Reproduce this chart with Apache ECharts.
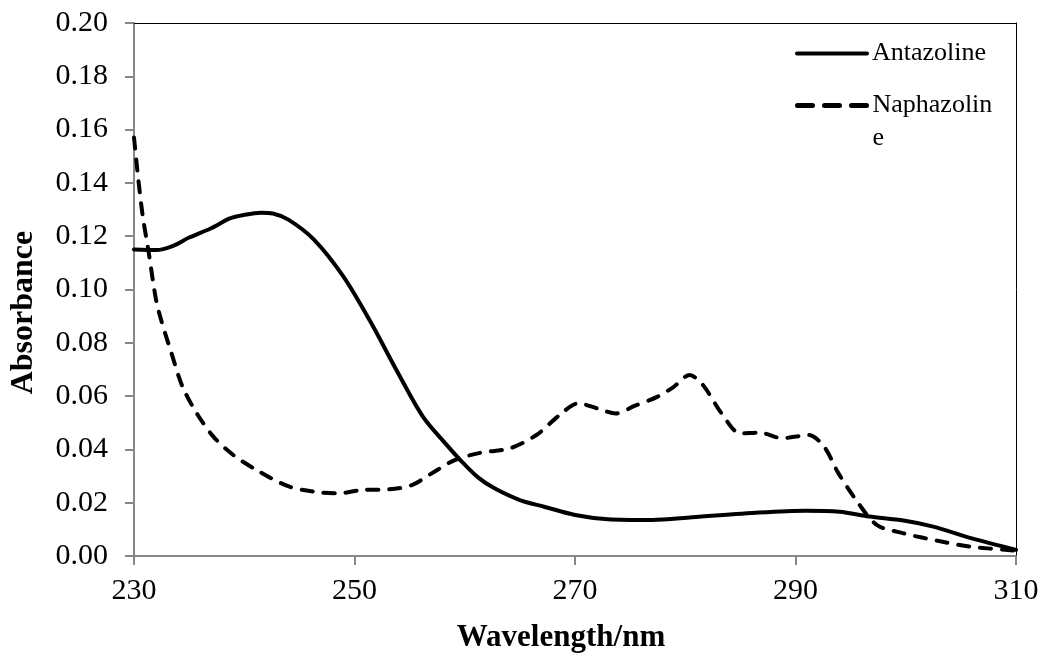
<!DOCTYPE html>
<html>
<head>
<meta charset="utf-8">
<script src="https://cdn.jsdelivr.net/npm/echarts@6/dist/echarts.min.js"></script>
<style>html,body{margin:0;padding:0;background:#fff}#c{width:1043px;height:659px}</style>
</head>
<body>
<div id="c"></div>
<script>
const antWl  = [230, 232, 233.5, 235, 237, 238.7, 240, 241.5, 242.6, 244, 246.3, 249, 251.5, 253.8, 256.2, 258.4, 259.6, 261.2, 262.7, 265, 267.2, 270, 273, 277, 280.6, 286.7, 290.9, 294, 296.7, 299.8, 302.5, 306, 310];
const antAbs = [0.115, 0.1148, 0.1163, 0.1195, 0.1230, 0.1267, 0.1280, 0.1288, 0.1285, 0.1262, 0.1188, 0.1048, 0.0875, 0.0698, 0.0523, 0.0415, 0.0360, 0.0295, 0.0254, 0.0210, 0.0185, 0.0154, 0.0138, 0.0135, 0.0145, 0.0163, 0.0170, 0.0166, 0.0148, 0.0133, 0.0110, 0.0066, 0.0023];
const naphWl  = [230, 230.4, 230.8, 231.3, 232, 232.5, 233.4, 234.4, 235.7, 237.2, 239, 241.4, 244.1, 246.8, 248.6, 250.7, 253.1, 255.2, 257, 259.1, 261.4, 264.1, 266.5, 268.6, 270.3, 272, 273.7, 275.4, 277.5, 278.9, 280.4, 281.6, 283.3, 285, 286.7, 288.8, 291.2, 292.6, 293.9, 295.7, 297.4, 299.8, 302.9, 305.9, 310];
const naphAbs = [0.157, 0.141, 0.1273, 0.1148, 0.0961, 0.0880, 0.0761, 0.0635, 0.0535, 0.0448, 0.0379, 0.0316, 0.0260, 0.0239, 0.0235, 0.0248, 0.0250, 0.0266, 0.0310, 0.0360, 0.0387, 0.0404, 0.0454, 0.0529, 0.0573, 0.0554, 0.0535, 0.0563, 0.0598, 0.0633, 0.0679, 0.0642, 0.0535, 0.0460, 0.0463, 0.0442, 0.0454, 0.0410, 0.0310, 0.0198, 0.0116, 0.0085, 0.0057, 0.0035, 0.0020];
const xTicks = [230, 250, 270, 290, 310];
const seriesNames = ['Antazoline', 'Naphazoline'];
const xTitle = 'Wavelength/nm';
const yTitle = 'Absorbance';

const FONT = "'Liberation Serif', 'Times New Roman', serif";
const pairs = (xs, ys) => xs.map((x, i) => [x, ys[i]]);
const DASH = [11, 11];

const legendBase = {
  left: 795, padding: 0, itemWidth: 70, itemHeight: 4, itemGap: 8,
  itemStyle: {opacity: 0},
  textStyle: {fontFamily: FONT, fontSize: 26, color: '#000', lineHeight: 33}
};

const chart = echarts.init(document.getElementById('c'), null, {renderer: 'canvas'});
chart.setOption({
  animation: false,
  backgroundColor: '#fff',
  grid: {left: 134, right: 27, top: 23, bottom: 103},
  legend: [
    Object.assign({}, legendBase, {
      data: [seriesNames[0]], top: 37,
      lineStyle: {width: 4, type: 'solid', cap: 'round', color: '#000'}
    }),
    Object.assign({}, legendBase, {
      data: [seriesNames[1]], top: 56,
      formatter: () => '\nNaphazolin\ne',
      lineStyle: {width: 5, type: [15, 12], cap: 'round', color: '#000'}
    })
  ],
  xAxis: [
    {
      type: 'value', min: 230, max: 310, interval: 20,
      name: xTitle, nameLocation: 'middle', nameGap: 66,
      nameTextStyle: {fontFamily: FONT, fontSize: 31, fontWeight: 'bold', color: '#000', padding: [0, 28, 0, 0]},
      axisLine: {show: true, lineStyle: {color: '#868686', width: 2}},
      axisTick: {show: true, inside: false, length: 9, lineStyle: {color: '#868686', width: 2}},
      axisLabel: {fontFamily: FONT, fontSize: 30, color: '#000', margin: 20,
        formatter: v => xTicks.indexOf(v) >= 0 ? String(v) : ''},
      splitLine: {show: false}
    },
    {
      type: 'value', position: 'top', min: 230, max: 310,
      axisLine: {show: true, onZero: false, lineStyle: {color: '#000', width: 1}},
      axisTick: {show: false}, axisLabel: {show: false}, splitLine: {show: false}
    }
  ],
  yAxis: [
    {
      type: 'value', min: 0, max: 0.2, interval: 0.02,
      name: yTitle, nameLocation: 'middle', nameGap: 94,
      nameTextStyle: {fontFamily: FONT, fontSize: 32, fontWeight: 'bold', color: '#000', padding: [0, 46, 0, 0]},
      axisLine: {show: true, lineStyle: {color: '#868686', width: 2}},
      axisTick: {show: true, inside: false, length: 9, lineStyle: {color: '#868686', width: 2}},
      axisLabel: {fontFamily: FONT, fontSize: 30, color: '#000', margin: 26,
        formatter: v => v.toFixed(2)},
      splitLine: {show: false}
    },
    {
      type: 'value', position: 'right', min: 0, max: 0.2,
      axisLine: {show: true, onZero: false, lineStyle: {color: '#000', width: 1}},
      axisTick: {show: false}, axisLabel: {show: false}, splitLine: {show: false}
    }
  ],
  series: [
    {
      name: seriesNames[0], type: 'line', xAxisIndex: 0, yAxisIndex: 0,
      data: pairs(antWl, antAbs), symbol: 'none', smooth: 0.3,
      lineStyle: {color: '#000', width: 4, type: 'solid', cap: 'round', join: 'round'},
      itemStyle: {color: '#000'}
    },
    {
      name: seriesNames[1], type: 'line', xAxisIndex: 0, yAxisIndex: 0,
      data: pairs(naphWl, naphAbs), symbol: 'none', smooth: 0.3,
      lineStyle: {color: '#000', width: 4, type: DASH, cap: 'round', join: 'round'},
      itemStyle: {color: '#000'}
    }
  ]
});
</script>
</body>
</html>
